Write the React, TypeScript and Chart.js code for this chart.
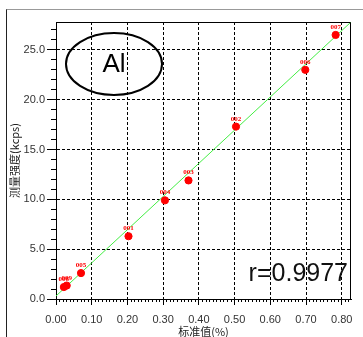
import { useEffect, useRef } from "react";
import { Chart, registerables } from "chart.js";

Chart.register(...registerables);

// Sample names, standard value (%) and measured intensity (kcps)
const sampleNames = ["007", "006", "002", "003", "004", "001", "005", "008", "009"];
const standardValues = [0.783, 0.698, 0.504, 0.371, 0.305, 0.203, 0.07, 0.022, 0.03];
const measuredIntensity = [26.5, 23.0, 17.3, 11.9, 9.9, 6.3, 2.6, 1.2, 1.35];

// Calibration line end points
const fitX = [0, 0.826];
const fitY = [0.3, 27.8];

const elementName = "Al";
const correlationText = "r=0.9977";
const xTitle = "标准值(%)";
const yTitle = "测量强度(kcps)";

const X_MIN = 0;
const X_MAX = 0.826;
const Y_MIN = 0;
const Y_MAX = 27.8;

const tickFont = { family: "'Liberation Sans', Arial, sans-serif", size: 11 };
const tickColor = "#333";

const isMultiple = (v: number, step: number) => Math.abs(v / step - Math.round(v / step)) < 1e-6;

const extrasPlugin = {
  id: "extras",
  afterDatasetsDraw(chart: any) {
    const { ctx } = chart;
    ctx.save();
    const meta = chart.getDatasetMeta(0);
    ctx.fillStyle = "#ff0000";
    ctx.font = "bold 7px 'Liberation Serif', serif";
    ctx.textAlign = "center";
    ctx.textBaseline = "alphabetic";
    meta.data.forEach((pt: any, i: number) => {
      ctx.fillText(sampleNames[i], pt.x, pt.y - 6);
    });
    ctx.restore();
  },
  afterDraw(chart: any) {
    const { ctx, chartArea } = chart;
    const { left, top, right, bottom } = chartArea;
    ctx.save();
    ctx.strokeStyle = "#000";
    ctx.lineWidth = 1;
    ctx.beginPath();
    ctx.moveTo(Math.round(left) + 0.5, Math.round(top) + 0.5);
    ctx.lineTo(Math.round(right) - 0.5, Math.round(top) + 0.5);
    ctx.lineTo(Math.round(right) - 0.5, Math.round(bottom) + 0.5);
    ctx.stroke();
    const cx = left + 58;
    const cy = top + 42;
    ctx.lineWidth = 2;
    ctx.beginPath();
    ctx.ellipse(cx, cy, 48, 31, 0, 0, Math.PI * 2);
    ctx.stroke();
    ctx.fillStyle = "#000";
    ctx.font = "26px 'Liberation Sans', Arial, sans-serif";
    ctx.textAlign = "center";
    ctx.textBaseline = "middle";
    ctx.fillText(elementName, cx, cy + 1);
    ctx.font = "25px 'Liberation Sans', Arial, sans-serif";
    ctx.textAlign = "right";
    ctx.textBaseline = "alphabetic";
    ctx.fillStyle = "#111";
    ctx.fillText(correlationText, right - 3, bottom - 18);
    ctx.restore();
  },
};

export default function App() {
  const canvasRef = useRef<HTMLCanvasElement | null>(null);

  useEffect(() => {
    if (!canvasRef.current) return;
    const points = standardValues.map((x, i) => ({ x, y: measuredIntensity[i] }));
    const fit = fitX.map((x, i) => ({ x, y: fitY[i] }));
    const chart = new Chart(canvasRef.current, {
      type: "scatter",
      data: {
        datasets: [
          {
            label: "samples",
            data: points,
            backgroundColor: "#ff0000",
            borderColor: "#ff0000",
            pointRadius: 3.6,
            pointHoverRadius: 3.6,
            order: 0,
          },
          {
            label: "fit",
            data: fit,
            showLine: true,
            borderColor: "#44ee44",
            borderWidth: 1,
            pointRadius: 0,
            order: 1,
          },
        ],
      },
      plugins: [extrasPlugin],
      options: {
        animation: false,
        responsive: false,
        maintainAspectRatio: false,
        layout: { padding: { top: 22, right: 12, left: 0, bottom: 0 } },
        plugins: { legend: { display: false }, tooltip: { enabled: false } },
        scales: {
          x: {
            type: "linear",
            position: "bottom",
            weight: 1,
            min: X_MIN,
            max: X_MAX,
            afterBuildTicks: (s: any) => {
              s.ticks = s.ticks.filter((t: any) => isMultiple(t.value, 0.1));
            },
            afterFit: (s: any) => {
              s.height = 38;
            },
            ticks: {
              stepSize: 0.1,
              includeBounds: false,
              autoSkip: false,
              maxRotation: 0,
              padding: 8,
              font: tickFont,
              color: tickColor,
              callback: (v: any) => Number(v).toFixed(2),
            },
            grid: {
              color: "#000",
              lineWidth: 1,
              tickLength: 6,
              tickColor: "#000",
              drawOnChartArea: true,
            },
            border: { display: true, color: "#000", width: 1, dash: [3, 2] },
            title: {
              display: true,
              text: xTitle,
              color: "#222",
              padding: { top: 0, bottom: 0 },
              font: { family: "'Noto Sans CJK SC', sans-serif", size: 11, lineHeight: 1 },
            },
          },
          xMinor: {
            type: "linear",
            position: "bottom",
            weight: 0,
            min: X_MIN,
            max: X_MAX,
            afterBuildTicks: (s: any) => {
              s.ticks = s.ticks.filter((t: any) => isMultiple(t.value, 0.01));
            },
            afterFit: (s: any) => {
              s.height = 0;
            },
            ticks: { stepSize: 0.01, includeBounds: false, display: false, autoSkip: false },
            grid: { drawOnChartArea: false, tickLength: 3, color: "#000" },
            border: { display: false },
          },
          y: {
            type: "linear",
            position: "left",
            weight: 1,
            min: Y_MIN,
            max: Y_MAX,
            afterBuildTicks: (s: any) => {
              s.ticks = s.ticks.filter((t: any) => isMultiple(t.value, 5));
            },
            afterFit: (s: any) => {
              s.width = 56;
            },
            ticks: {
              stepSize: 5,
              includeBounds: false,
              autoSkip: false,
              padding: 2,
              font: tickFont,
              color: tickColor,
              callback: (v: any) => Number(v).toFixed(1),
            },
            grid: {
              color: "#000",
              lineWidth: 1,
              tickLength: 9,
              tickColor: "#000",
              drawOnChartArea: true,
            },
            border: { display: true, color: "#000", width: 1, dash: [3, 2] },
            title: {
              display: true,
              text: yTitle,
              color: "#222",
              padding: { top: 8, bottom: 0 },
              font: { family: "'Noto Sans CJK SC', sans-serif", size: 11 },
            },
          },
          yMinor: {
            type: "linear",
            position: "left",
            weight: 0,
            min: Y_MIN,
            max: Y_MAX,
            afterBuildTicks: (s: any) => {
              s.ticks = s.ticks.filter((t: any) => isMultiple(t.value, 1));
            },
            afterFit: (s: any) => {
              s.width = 0;
            },
            ticks: { stepSize: 1, includeBounds: false, display: false, autoSkip: false },
            grid: { drawOnChartArea: false, tickLength: 5, color: "#000" },
            border: { display: false },
          },
        },
      },
    } as any);
    return () => chart.destroy();
  }, []);

  return (
    <div style={{ position: "fixed", left: 0, top: 0, width: 363, height: 337, background: "#fff", overflow: "hidden" }}>
      <div
        style={{
          position: "absolute",
          left: 6,
          top: 9,
          right: -10,
          bottom: -10,
          borderLeft: "1px solid #222",
          borderTop: "1px solid #999",
        }}
      />
      <canvas ref={canvasRef} width={363} height={337} style={{ position: "absolute", left: 0, top: 0, width: 363, height: 337 }} />
    </div>
  );
}
